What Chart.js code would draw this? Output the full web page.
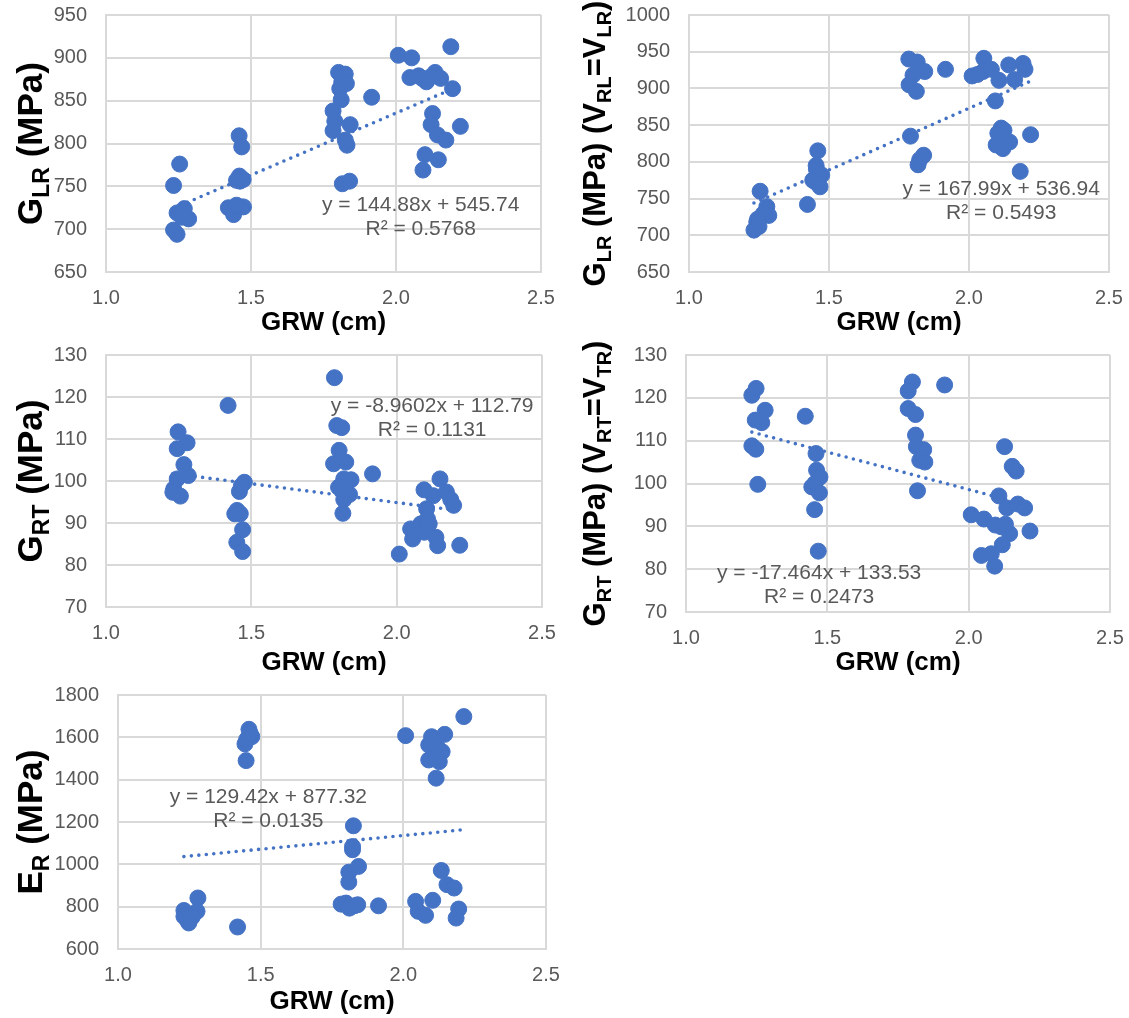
<!DOCTYPE html>
<html>
<head>
<meta charset="utf-8">
<title>GRW vs moduli</title>
<script src="https://cdn.jsdelivr.net/npm/chart.js@4.4.0/dist/chart.umd.min.js"></script>
<style>
  body { margin: 0; background: #fff; }
  .panel { position: absolute; }
</style>
</head>
<body>
<div class="panel" style="left:0;top:0"><canvas id="c1" width="565" height="340"></canvas></div>
<div class="panel" style="left:565px;top:0"><canvas id="c2" width="564" height="340"></canvas></div>
<div class="panel" style="left:0;top:340px"><canvas id="c3" width="565" height="340"></canvas></div>
<div class="panel" style="left:565px;top:340px"><canvas id="c4" width="564" height="340"></canvas></div>
<div class="panel" style="left:0;top:680px"><canvas id="c5" width="565" height="338"></canvas></div>
<script>
// values, GRW (cm) on x
const xTicks = [1.0, 1.5, 2.0, 2.5];

const glrX = [1.233,1.254,1.245,1.270,1.285,1.262,1.233,1.245,
  1.459,1.468,1.460,1.462,1.473,1.450,1.422,1.440,1.462,1.474,1.450,
  1.802,1.825,1.813,1.829,1.806,1.811,1.783,1.789,1.783,1.842,1.825,1.831,1.815,1.840,1.916,
  2.008,2.054,2.048,2.078,2.105,2.135,2.154,2.126,2.121,2.143,2.172,2.100,2.146,2.093,2.189,2.195,2.222,2.120,2.090];
const glrY = [751,776,719,724,712,714,699,694,
  809,796,762,756,758,757,725,717,726,726,728,
  883,881,872,870,864,851,838,826,815,822,804,798,753,756,854,
  903,900,877,879,872,883,876,835,822,810,804,787,781,769,913,864,820,878,876];

const glrVX = [1.254,1.278,1.285,1.265,1.242,1.250,1.232,1.245,
  1.423,1.460,1.454,1.455,1.474,1.442,1.450,1.468,
  1.785,1.815,1.842,1.800,1.786,1.812,1.916,1.791,1.838,1.824,1.818,
  2.011,2.053,2.050,2.080,2.107,2.142,2.163,2.193,2.200,2.094,2.115,2.103,2.097,2.121,2.145,2.125,2.183,2.220,2.030];
const glrVY = [760,739,727,729,718,712,707,722,
  742,815,795,790,782,775,773,766,
  940,936,923,918,905,896,926,835,809,803,796,
  917,941,923,926,911,932,912,934,926,883,846,839,823,818,827,843,787,837,919];

const grtX = [1.420,1.786,1.248,1.279,1.245,1.268,1.283,1.245,1.233,1.256,1.230,
  1.459,1.476,1.466,1.451,1.462,1.443,1.470,1.450,1.470,
  1.794,1.811,1.802,1.783,1.825,1.818,1.843,1.800,1.838,1.818,1.815,1.917,
  2.009,2.048,2.055,2.094,2.126,2.149,2.103,2.083,2.112,2.095,2.135,2.141,2.106,2.171,2.186,2.196,2.217];
const grtY = [118,124.6,111.7,109.1,107.7,103.9,101.3,100.5,98.1,96.4,97.3,
  97.5,99.7,98.9,93,92.2,92.2,88.4,85.4,83.2,
  113.2,112.7,107.3,104.1,104.5,100.5,100.3,98.5,96.8,95.6,92.3,101.7,
  82.6,88.6,86.2,97.9,96.5,100.5,93.4,89.8,89.8,87.8,86.6,84.6,91,97.4,95.6,94.2,84.7];

const grtVX = [1.248,1.233,1.280,1.245,1.268,1.233,1.247,1.254,
  1.422,1.460,1.462,1.474,1.445,1.456,1.472,1.455,1.468,
  1.801,1.786,1.786,1.812,1.812,1.815,1.841,1.827,1.845,1.819,1.915,
  2.127,2.154,2.168,2.107,2.135,2.009,2.054,2.094,2.115,2.145,2.119,2.045,2.080,2.092,2.174,2.198,2.217,2.130];
const grtVY = [122.2,120.6,117.1,114.8,114.2,108.8,108,99.8,
  115.7,107,103.1,101.5,99.2,100,97.8,93.9,84.2,
  123.7,121.6,117.5,116.1,111.3,108.6,107.9,105.4,105,98.3,123,
  108.6,104,102.9,97.1,94.3,92.7,91.7,90.3,89.9,88.3,85.7,83.2,83.6,80.7,95.2,94.3,88.9,90.5];

const erX = [1.459,1.469,1.445,1.451,1.449,1.463,
  2.008,2.099,2.089,2.118,2.136,2.145,2.089,2.126,2.115,2.212,
  2.133,2.153,2.178,2.194,2.185,2.103,2.043,2.052,2.078,
  1.825,1.822,1.822,1.843,1.809,1.809,1.782,1.799,1.828,1.811,1.840,1.913,
  1.280,1.231,1.277,1.242,1.260,1.248,1.231,1.419];
const erY = [1638,1603,1569,1590,1490,1619,
  1608,1603,1564,1556,1532,1614,1493,1485,1407,1698,
  971,904,888,789,746,830,825,778,759,
  1182,1069,1084,990,963,916,812,817,804,793,809,804,
  841,782,778,738,751,723,754,704];

const slopes = [144.88, 167.99, -8.9602, -17.464, 129.42];
const intercepts = [545.74, 536.94, 112.79, 133.53, 877.32];
const rSquared = ['0.5768', '0.5493', '0.1131', '0.2473', '0.0135'];

const yTicks1 = [650, 700, 750, 800, 850, 900, 950];
const yTicks2 = [650, 700, 750, 800, 850, 900, 950, 1000];
const yTicks3 = [70, 80, 90, 100, 110, 120, 130];
const yTicks5 = [600, 800, 1000, 1200, 1400, 1600, 1800];

const BLUE = '#4472C4';
const GREY = '#595959';
const FONT = '"Liberation Sans", Arial, sans-serif';

// draws the trendline equation and the y title (with subscripts)
const extras = {
  id: 'extras',
  afterDraw(chart, args, o) {
    const ctx = chart.ctx;
    const area = chart.chartArea;
    const xs = chart.scales.x, ys = chart.scales.y;

    ctx.save();
    ctx.fillStyle = GREY;
    ctx.font = '21px ' + FONT;
    ctx.textAlign = 'center';
    ctx.textBaseline = 'middle';
    const ex = xs.getPixelForValue(o.labelAt[0]);
    const ey = ys.getPixelForValue(o.labelAt[1]);
    ctx.fillText(o.eq, ex, ey);
    ctx.fillText(o.r2, ex, ey + 24);
    ctx.restore();

    const big = o.titleSize, small = Math.round(big * 0.65);
    const f = s => 'bold ' + s + 'px ' + FONT;
    ctx.save();
    let total = 0;
    o.title.forEach(([t, sub]) => {
      ctx.font = f(sub ? small : big);
      total += ctx.measureText(t).width;
    });
    ctx.translate(o.titleX, (area.top + area.bottom) / 2);
    ctx.rotate(-Math.PI / 2);
    ctx.fillStyle = '#000';
    ctx.textAlign = 'left';
    ctx.textBaseline = 'alphabetic';
    const base = big * 0.36;
    let pos = -total / 2;
    o.title.forEach(([t, sub]) => {
      ctx.font = f(sub ? small : big);
      ctx.fillText(t, pos, sub ? base + big * 0.2 : base);
      pos += ctx.measureText(t).width;
    });
    ctx.restore();
  }
};

function makeChart(id, xs, ys, i, yTicks, o) {
  const pts = xs.map((x, k) => ({ x: x, y: ys[k] }));
  const lo = Math.min(...xs), hi = Math.max(...xs);
  const trend = [lo, hi].map(x => ({ x: x, y: slopes[i] * x + intercepts[i] }));
  const sign = intercepts[i] < 0 ? ' - ' : ' + ';
  new Chart(document.getElementById(id), {
    type: 'scatter',
    data: {
      datasets: [
        {
          type: 'line', data: trend, borderColor: BLUE, borderWidth: 3.6,
          borderDash: [0, 7.5], borderCapStyle: 'round', pointRadius: 0, fill: false
        },
        { data: pts, backgroundColor: BLUE, borderColor: BLUE, pointRadius: 8, pointHoverRadius: 8 }
      ]
    },
    options: {
      responsive: false,
      animation: false,
      events: [],
      layout: { padding: { top: o.padTop, right: o.padRight, left: 0, bottom: 0 } },
      plugins: {
        legend: { display: false },
        tooltip: { enabled: false },
        extras: {
          eq: 'y = ' + slopes[i] + 'x' + sign + Math.abs(intercepts[i]),
          r2: 'R\u00B2 = ' + rSquared[i],
          labelAt: o.labelAt, title: o.title, titleSize: o.titleSize, titleX: 29
        }
      },
      scales: {
        x: {
          type: 'linear', min: xTicks[0], max: xTicks[xTicks.length - 1],
          ticks: { stepSize: xTicks[1] - xTicks[0], padding: 14, color: GREY,
            font: { family: FONT, size: 20 }, callback: v => v.toFixed(1) },
          grid: { color: '#d9d9d9', lineWidth: 2, drawTicks: false },
          border: { color: '#d9d9d9', width: 2 },
          title: { display: true, text: 'GRW (cm)', color: '#000',
            font: { family: FONT, size: 26, weight: 'bold' }, padding: { top: 0, bottom: o.titlePad } },
          afterFit: s => { s.height = o.axisH; s.paddingLeft = 0; s.paddingRight = 0; }
        },
        y: {
          min: yTicks[0], max: yTicks[yTicks.length - 1],
          ticks: { stepSize: yTicks[1] - yTicks[0], padding: 19, color: GREY,
            font: { family: FONT, size: 20 }, callback: v => String(v) },
          grid: { color: '#d9d9d9', lineWidth: 2, drawTicks: false },
          border: { color: '#d9d9d9', width: 2 },
          afterFit: s => { s.width = o.axisW; s.paddingTop = 0; s.paddingBottom = 0; }
        }
      }
    },
    plugins: [extras]
  });
}

makeChart('c1', glrX, glrY, 0, yTicks1, {
  axisW: 106, axisH: 68, padTop: 15, padRight: 24, titlePad: 2,
  labelAt: [2.085, 728], titleSize: 35,
  title: [['G', false], ['LR', true], [' (MPa)', false]]
});
makeChart('c2', glrVX, glrVY, 1, yTicks2, {
  axisW: 124, axisH: 68, padTop: 15, padRight: 20, titlePad: 2,
  labelAt: [2.115, 763], titleSize: 31,
  title: [['G', false], ['LR', true], [' (MPa) (V', false], ['RL', true], ['=V', false], ['LR', true], [')', false]]
});
makeChart('c3', grtX, grtY, 2, yTicks3, {
  axisW: 106, axisH: 73, padTop: 15, padRight: 23, titlePad: 2,
  labelAt: [2.122, 117.7], titleSize: 35,
  title: [['G', false], ['RT', true], [' (MPa)', false]]
});
makeChart('c4', grtVX, grtVY, 3, yTicks3, {
  axisW: 121, axisH: 68, padTop: 15, padRight: 19, titlePad: 2,
  labelAt: [1.471, 79], titleSize: 31,
  title: [['G', false], ['RT', true], [' (MPa) (V', false], ['RT', true], ['=V', false], ['TR', true], [')', false]]
});
makeChart('c5', erX, erY, 4, yTicks5, {
  axisW: 118, axisH: 69, padTop: 15, padRight: 19, titlePad: 1,
  labelAt: [1.527, 1317], titleSize: 35,
  title: [['E', false], ['R', true], [' (MPa)', false]]
});
</script>
</body>
</html>
